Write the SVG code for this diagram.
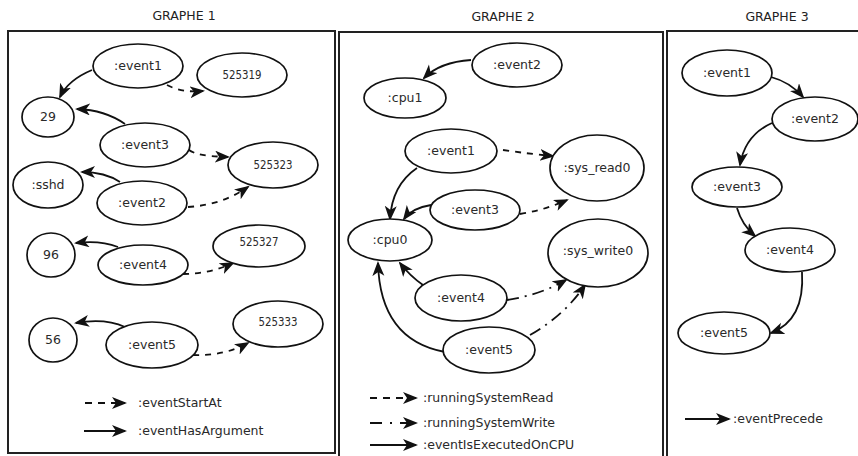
<svg xmlns="http://www.w3.org/2000/svg" width="858" height="456" viewBox="0 0 858 456">
<defs>
<marker id="ah" markerUnits="userSpaceOnUse" markerWidth="16" markerHeight="14" refX="13" refY="6" orient="auto">
<path d="M0,0 L15,6 L0,12 L4,6 z" fill="#111"/>
</marker>
<style>
.panel{fill:#fff;stroke:#222;stroke-width:2}
.title{font-family:"DejaVu Sans",sans-serif;font-size:12.5px;fill:#222;text-anchor:middle}
.n ellipse{fill:#fff;stroke:#111;stroke-width:1.7}
.n text{font-family:"DejaVu Sans",sans-serif;font-size:12.5px;fill:#2a2a2a;text-anchor:middle}
.e{fill:none;stroke:#111;stroke-width:1.8;marker-end:url(#ah)}
.d{stroke-dasharray:6 6}
.dd{stroke-dasharray:12 6 2 6}
.lg{font-family:"DejaVu Sans",sans-serif;font-size:12.5px;fill:#2a2a2a}
.le{stroke-width:2.2}
</style>
</defs>
<rect x="0" y="0" width="858" height="456" fill="#fff"/>
<text class="title" x="184" y="20">GRAPHE 1</text>
<text class="title" x="503" y="21">GRAPHE 2</text>
<text class="title" x="777" y="21">GRAPHE 3</text>
<rect class="panel" x="8" y="31" width="327" height="422"/>
<rect class="panel" x="339" y="32" width="324" height="430"/>
<rect class="panel" x="667" y="31" width="200" height="431"/>

<g id="connectors">
<path class="e" d="M92 70 Q68 80 60 97"/>
<path class="e d" d="M167 85 Q182 93 203 91"/>
<path class="e" d="M125 124 Q105 110 77 109"/>
<path class="e d" d="M189 150 Q196 156 228 157"/>
<path class="e" d="M120 182 Q105 172 82 172"/>
<path class="e d" d="M188 207 Q222 205 248 187"/>
<path class="e" d="M118 247 Q100 240 76 243"/>
<path class="e d" d="M183 274 Q210 274 233 263"/>
<path class="e" d="M125 327 Q105 318 76 323"/>
<path class="e d" d="M193 355 Q225 356 248 343"/>
<path class="e le" d="M85 403 L125 403" style="stroke-dasharray:7 6"/>
<path class="e le" d="M84 431 L125 431"/>

<path class="e" d="M471 60 Q440 62 424 78"/>
<path class="e d" d="M503 150 Q530 154 553 156"/>
<path class="e" d="M417 168 Q392 185 390 219"/>
<path class="e" d="M431 205 Q412 208 404 219"/>
<path class="e d" d="M520 214 Q545 210 567 200"/>
<path class="e" d="M423 285 Q410 276 400 263"/>
<path class="e" d="M445 352 Q380 340 378 263"/>
<path class="e dd" d="M507 300 Q540 295 566 280"/>
<path class="e dd" d="M530 335 Q565 315 585 285"/>
<path class="e le" d="M370 398 L416 398" style="stroke-dasharray:7 6"/>
<path class="e le" d="M370 423 L416 423" style="stroke-dasharray:12 8 2 8"/>
<path class="e le" d="M370 445 L416 445"/>

<path class="e" d="M771 77 Q790 82 803 97"/>
<path class="e" d="M772 123 Q745 135 740 165"/>
<path class="e" d="M737 208 Q742 225 755 236"/>
<path class="e" d="M802 272 Q805 320 771 333"/>
<path class="e le" d="M685 419 L729 419"/>
</g>

<g id="g1-event1" class="n"><ellipse cx="138" cy="66" rx="45" ry="22"/><text x="138" y="70">:event1</text></g>
<g id="g1-525319" class="n"><ellipse cx="242" cy="75" rx="45" ry="22"/><text x="242" y="79" textLength="39" lengthAdjust="spacingAndGlyphs">525319</text></g>
<g id="g1-29" class="n"><ellipse cx="48" cy="117" rx="26" ry="20"/><text x="48" y="121">29</text></g>
<g id="g1-event3" class="n"><ellipse cx="145" cy="145" rx="45" ry="22"/><text x="145" y="149">:event3</text></g>
<g id="g1-525323" class="n"><ellipse cx="273" cy="165" rx="45" ry="23"/><text x="273" y="169" textLength="39" lengthAdjust="spacingAndGlyphs">525323</text></g>
<g id="g1-sshd" class="n"><ellipse cx="48" cy="185" rx="35" ry="23"/><text x="48" y="189">:sshd</text></g>
<g id="g1-event2" class="n"><ellipse cx="142" cy="203" rx="45" ry="22"/><text x="142" y="207">:event2</text></g>
<g id="g1-96" class="n"><ellipse cx="51" cy="255" rx="24" ry="22"/><text x="51" y="259">96</text></g>
<g id="g1-event4" class="n"><ellipse cx="143" cy="265" rx="45" ry="20"/><text x="143" y="269">:event4</text></g>
<g id="g1-525327" class="n"><ellipse cx="259" cy="246" rx="46" ry="21"/><text x="259" y="246" textLength="39" lengthAdjust="spacingAndGlyphs">525327</text></g>
<g id="g1-56" class="n"><ellipse cx="53" cy="340" rx="24" ry="22"/><text x="53" y="344">56</text></g>
<g id="g1-event5" class="n"><ellipse cx="152" cy="345" rx="46" ry="23"/><text x="152" y="349">:event5</text></g>
<g id="g1-525333" class="n"><ellipse cx="278" cy="324" rx="45" ry="23"/><text x="278" y="326" textLength="39" lengthAdjust="spacingAndGlyphs">525333</text></g>

<g id="g2-event2" class="n"><ellipse cx="517" cy="65" rx="45" ry="22"/><text x="517" y="69">:event2</text></g>
<g id="g2-cpu1" class="n"><ellipse cx="405" cy="98" rx="41" ry="20"/><text x="405" y="102">:cpu1</text></g>
<g id="g2-event1" class="n"><ellipse cx="451" cy="151" rx="46" ry="22"/><text x="451" y="155">:event1</text></g>
<g id="g2-sys_read0" class="n"><ellipse cx="597" cy="168" rx="47" ry="33"/><text x="597" y="172">:sys_read0</text></g>
<g id="g2-event3" class="n"><ellipse cx="475" cy="210" rx="45" ry="20"/><text x="475" y="214">:event3</text></g>
<g id="g2-cpu0" class="n"><ellipse cx="390" cy="240" rx="42" ry="21"/><text x="390" y="244">:cpu0</text></g>
<g id="g2-sys_write0" class="n"><ellipse cx="598" cy="253" rx="50" ry="34"/><text x="598" y="255">:sys_write0</text></g>
<g id="g2-event4" class="n"><ellipse cx="461" cy="298" rx="46" ry="23"/><text x="461" y="302">:event4</text></g>
<g id="g2-event5" class="n"><ellipse cx="489" cy="350" rx="46" ry="23"/><text x="489" y="354">:event5</text></g>

<g id="g3-event1" class="n"><ellipse cx="727" cy="73" rx="45" ry="23"/><text x="727" y="77">:event1</text></g>
<g id="g3-event2" class="n"><ellipse cx="815" cy="119" rx="43" ry="22"/><text x="815" y="123">:event2</text></g>
<g id="g3-event3" class="n"><ellipse cx="737" cy="187" rx="45" ry="20"/><text x="737" y="191">:event3</text></g>
<g id="g3-event4" class="n"><ellipse cx="790" cy="250" rx="45" ry="22"/><text x="790" y="254">:event4</text></g>
<g id="g3-event5" class="n"><ellipse cx="724" cy="333" rx="46" ry="21"/><text x="724" y="337">:event5</text></g>

<g id="legends">
<text class="lg" x="138" y="407">:eventStartAt</text>
<text class="lg" x="138" y="435">:eventHasArgument</text>
<text class="lg" x="423" y="402">:runningSystemRead</text>
<text class="lg" x="423" y="427">:runningSystemWrite</text>
<text class="lg" x="423" y="449">:eventIsExecutedOnCPU</text>
<text class="lg" x="733" y="423">:eventPrecede</text>
</g>
</svg>
